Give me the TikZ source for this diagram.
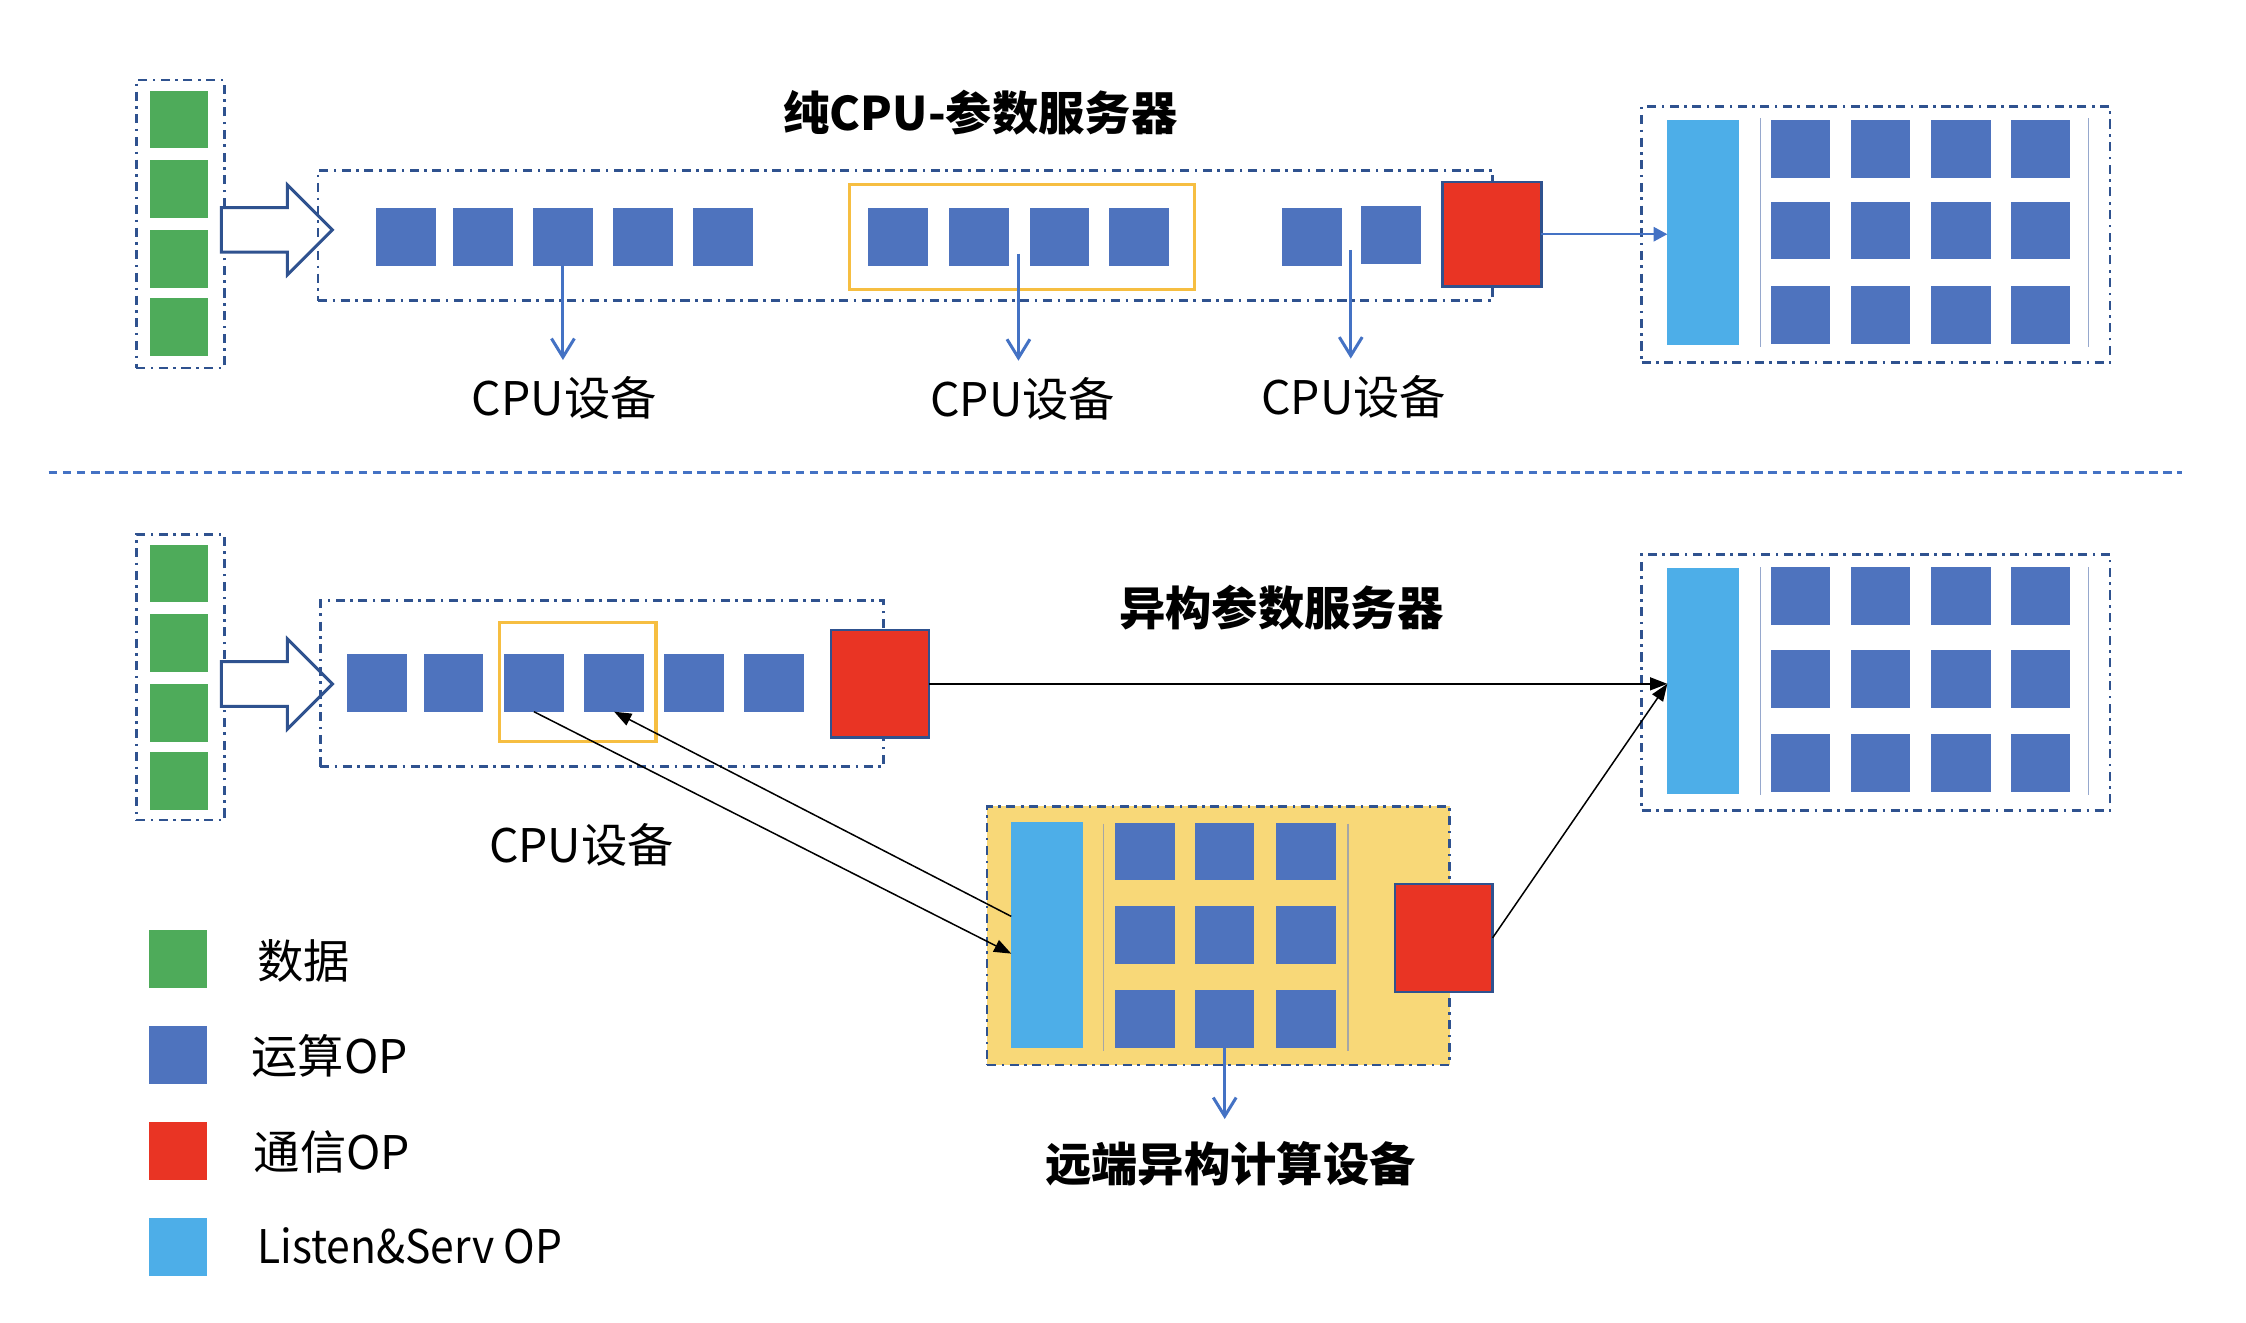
\documentclass[tikz,border=0pt]{standalone}
\usepackage{fontspec}
\setmainfont{Noto Sans CJK SC}
\usetikzlibrary{arrows.meta,shapes.arrows}

\definecolor{datagreen}{RGB}{78,171,90}
\definecolor{opblue}{RGB}{78,115,190}
\definecolor{commred}{RGB}{233,52,36}
\definecolor{listenblue}{RGB}{77,174,232}
\definecolor{framegold}{RGB}{246,190,65}
\definecolor{devfill}{RGB}{248,216,120}
\definecolor{edgeblue}{RGB}{47,82,143}
\definecolor{lineblue}{RGB}{68,114,196}
\definecolor{splitgray}{RGB}{150,168,205}

\tikzset{
    box/.style={inner sep=0pt, outer sep=0pt},
    data/.style={box, fill=datagreen, minimum width=0.41cm, minimum height=0.40cm},
    op/.style={box, fill=opblue, minimum width=0.415cm, minimum height=0.403cm},
    comm/.style={box, fill=commred, draw=edgeblue, line width=0.5pt, minimum width=0.68cm, minimum height=0.74cm},
    listen/.style={box, fill=listenblue, minimum width=0.50cm, minimum height=1.575cm},
    group/.style={box, draw=edgeblue, line width=0.55pt, dash pattern=on 1.8pt off 1.1pt on 0.5pt off 1.1pt},
    pick/.style={box, draw=framegold, line width=0.65pt},
    feed/.style={single arrow, draw=edgeblue, fill=white, line width=0.6pt, inner xsep=0pt, inner ysep=0.145cm,
        minimum height=0.775cm, single arrow head extend=0.158cm,
        single arrow head indent=0pt, anchor=tail},
    lbl/.style={inner sep=0pt, font=\fontsize{9.2pt}{11pt}\selectfont},
    ttl/.style={inner sep=0pt, font=\fontsize{9.2pt}{11pt}\selectfont\bfseries},
    down/.style={draw=lineblue, line width=0.6pt, shorten >=0.11cm, -{Straight Barb[length=1.3mm,width=1.6mm]}},
    push/.style={draw=lineblue, line width=0.35pt, -{Triangle[length=0.95mm,width=1mm]}},
    send/.style={draw=black, line width=0.3pt, -{Triangle[length=1.2mm,width=0.9mm]}},
    split/.style={draw=splitgray, line width=0.3pt},
    cut/.style={draw=lineblue, line width=0.6pt, dash pattern=on 1.7pt off 1.1pt}
}

\begin{document}
\begin{tikzpicture}
    \useasboundingbox (0,0) rectangle (15.68,-9.23);

    \node[group, minimum width=0.615cm, minimum height=2.01cm] (dataT) at (1.258,-1.564) {};
    \foreach \y [count=\i] in {0.835,1.32,1.808,2.283}
        \node[data] (dT\i) at (1.25,-\y) {};
    \node[feed] (feedT) at (1.535,-1.605) {};

    \node[group, minimum width=8.2cm, minimum height=0.91cm] (cpuT) at (6.32,-1.645) {};
    \node[pick, minimum width=2.41cm, minimum height=0.733cm] (pickT) at (7.135,-1.653) {};
    \foreach \x [count=\i] in {2.833,3.373,3.93,4.49,5.048,6.268,6.836,7.396,7.953,9.16}
        \node[op] (opT\i) at (\x,-1.654) {};
    \node[op] (opT11) at (9.71,-1.64) {};
    \node[comm, minimum width=0.69cm, minimum height=0.73cm] (redT) at (10.415,-1.635) {};

    \node[ttl] (titleT) at (6.845,-0.785) {纯CPU-参数服务器};

    \node[group, minimum width=3.27cm, minimum height=1.785cm] (srvT) at (13.095,-1.6375) {};
    \node[listen, minimum height=1.57cm] (barT) at (11.89,-1.625) {};
    \foreach \x [count=\i] in {12.57,13.13,13.69,14.245}
        \foreach \y [count=\j] in {1.04,1.61,2.2}
            \node[op] (gT\i\j) at (\x,-\y) {};
    \draw[split] (12.29,-0.826) -- (12.29,-2.42);
    \draw[split] (14.58,-0.826) -- (14.58,-2.42);
    \draw[push] (redT.east) -- (redT.east -| barT.west);

    \coordinate (tapT2) at (7.11,-1.77);
    \coordinate (tapT3) at (9.43,-1.745);
    \node[lbl] (labT1) at (3.94,-2.78) {CPU设备};
    \node[lbl] (labT2) at (7.14,-2.785) {CPU设备};
    \node[lbl] (labT3) at (9.45,-2.77) {CPU设备};
    \draw[down] (opT3.south) -- (opT3.south |- labT1.north);
    \draw[down] (tapT2) -- (tapT2 |- labT2.north);
    \draw[down] (tapT3) -- (tapT3 |- labT3.north);

    \draw[cut] (0.34,-3.30) -- (15.23,-3.30);

    \node[group, minimum width=0.615cm, minimum height=1.995cm] (dataB) at (1.258,-4.7275) {};
    \foreach \y [count=\i] in {4.005,4.489,4.978,5.453}
        \node[data] (dB\i) at (1.25,-\y) {};
    \node[feed] (feedB) at (1.535,-4.775) {};

    \node[group, minimum width=3.935cm, minimum height=1.158cm] (cpuB) at (4.2025,-4.773) {};
    \node[pick, minimum width=1.095cm, minimum height=0.828cm] (pickB) at (4.0325,-4.761) {};
    \foreach \x [count=\i] in {2.6325,3.1675,3.7275,4.2875,4.845,5.403}
        \node[op] (opB\i) at (\x,-4.767) {};
    \node[comm, minimum width=0.686cm, minimum height=0.752cm] (redB) at (6.143,-4.774) {};

    \node[ttl] (titleB) at (8.945,-4.24) {异构参数服务器};
    \node[lbl] (labB) at (4.06,-5.90) {CPU设备};

    \node[group, minimum width=3.27cm, minimum height=1.79cm] (srvB) at (13.095,-4.765) {};
    \node[listen, minimum height=1.575cm] (barB) at (11.89,-4.7525) {};
    \foreach \x [count=\i] in {12.57,13.13,13.69,14.245}
        \foreach \y [count=\j] in {4.16,4.74,5.3275}
            \node[op] (gB\i\j) at (\x,-\y) {};
    \draw[split] (12.29,-3.96) -- (12.29,-5.55);
    \draw[split] (14.58,-3.96) -- (14.58,-5.55);

    \node[group, fill=devfill, minimum width=3.23cm, minimum height=1.805cm] (devR) at (8.505,-6.5325) {};
    \node[listen, minimum height=1.575cm] (barR) at (7.31,-6.5275) {};
    \foreach \x [count=\i] in {7.9925,8.55,9.1175}
        \foreach \y [count=\j] in {5.945,6.5275,7.113}
            \node[op] (gR\i\j) at (\x,-\y) {};
    \draw[split, draw=gray!70] (7.705,-5.75) -- (7.705,-7.34);
    \draw[split, draw=gray!70] (9.41,-5.75) -- (9.41,-7.34);
    \node[comm, minimum width=0.68cm, minimum height=0.755cm] (redR) at (10.08,-6.5475) {};

    \node[ttl] (labR) at (8.59,-8.125) {远端异构计算设备};
    \draw[down, shorten >=0.15cm] (gR23.south) -- (gR23.south |- labR.north);

    \draw[send] (redB.east) -- (redB.east -| barB.west);
    \draw[send] (redR.east) -- (redB.east -| barB.west);
    \draw[send] (opB3.south) -- ([yshift=-0.13cm]barR.west);
    \draw[send] ([yshift=0.13cm]barR.west) -- (opB4.south);

    \node[data, minimum width=0.403cm, minimum height=0.41cm] (keyData) at (1.242,-6.695) {};
    \node[op, minimum width=0.403cm, minimum height=0.405cm] (keyOp) at (1.242,-7.363) {};
    \node[box, fill=commred, minimum width=0.403cm, minimum height=0.405cm] (keyComm) at (1.242,-8.033) {};
    \node[listen, minimum width=0.403cm, minimum height=0.405cm] (keyListen) at (1.242,-8.703) {};
    \node[lbl, anchor=west] (txtData) at (1.79,-6.707) {数据};
    \node[lbl, anchor=west] (txtOp) at (1.75,-7.37) {运算OP};
    \node[lbl, anchor=west] (txtComm) at (1.764,-8.045) {通信OP};
    \node[lbl, anchor=west] (txtListen) at (1.79,-8.70) {\addfontfeatures{FakeStretch=0.92}Listen\&Serv OP};
\end{tikzpicture}
\end{document}
